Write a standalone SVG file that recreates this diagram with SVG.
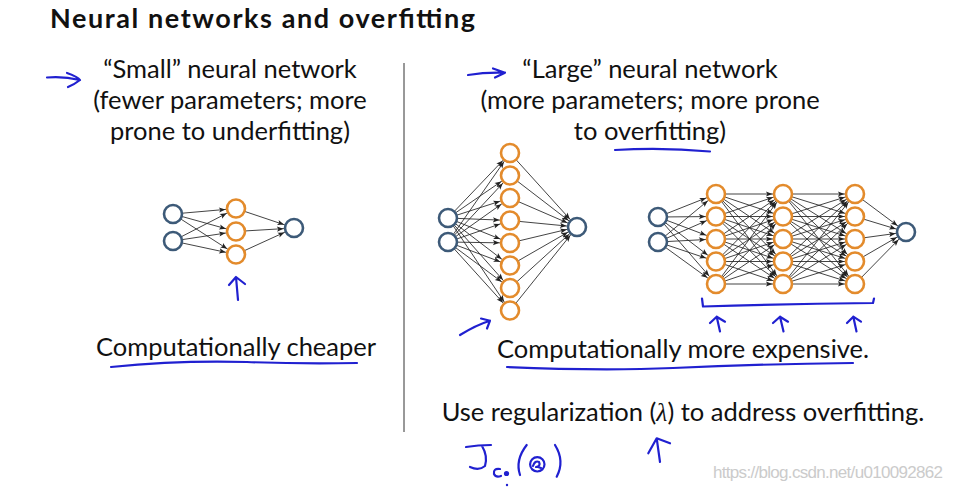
<svg xmlns="http://www.w3.org/2000/svg" width="960" height="490" viewBox="0 0 960 490">
<defs>
<marker id="ah" markerUnits="userSpaceOnUse" markerWidth="12" markerHeight="12" refX="10.6" refY="0" orient="auto" overflow="visible">
<path d="M-6.5,-2.6 L0,0 L-6.5,2.6 L-5,0 Z" fill="#222"/>
</marker>
</defs>
<style>
text{font-family:Lato,"Open Sans","Liberation Sans",sans-serif;fill:#111}
.t{font-size:25.5px;text-anchor:middle}
.h{font-size:27px;font-weight:bold}
.c{stroke:#222;stroke-width:0.85;marker-end:url(#ah)}
.io{fill:#fff;stroke:#3d5a78;stroke-width:2.6}
.hd{fill:#fff;stroke:#e38b2c;stroke-width:2.6}
.ink{fill:none;stroke:#2020d0;stroke-width:2.2;stroke-linecap:round;stroke-linejoin:round}
</style>
<rect width="960" height="490" fill="#fff"/>

<text class="h" x="50" y="28" textLength="425">Neural networks and overfitting</text>

<text class="t" x="230" y="78">“Small” neural network</text>
<text class="t" x="230" y="109">(fewer parameters; more</text>
<text class="t" x="230" y="140">prone to underfitting)</text>

<text class="t" x="650" y="78">“Large” neural network</text>
<text class="t" x="650" y="109">(more parameters; more prone</text>
<text class="t" x="650" y="140">to overfitting)</text>

<line x1="404" y1="63" x2="404" y2="432" stroke="#333" stroke-width="1"/>

<text class="t" x="236" y="356">Computationally cheaper</text>
<text class="t" x="683" y="358">Computationally more expensive.</text>
<text class="t" x="683" y="421">Use regularization (<tspan font-family="Liberation Serif" font-style="italic">λ</tspan>) to address overfitting.</text>

<text x="713" y="478" font-family="Liberation Sans" font-size="17" style="fill:#cbcbcb;font-family:'Liberation Sans',sans-serif" textLength="230">https://blog.csdn.net/u010092862</text>

<g id="connectors">
<!-- small network -->
<line class="c" x1="173" y1="214" x2="236" y2="208.5"/>
<line class="c" x1="173" y1="214" x2="236" y2="231.5"/>
<line class="c" x1="173" y1="214" x2="236" y2="254.5"/>
<line class="c" x1="173" y1="241" x2="236" y2="208.5"/>
<line class="c" x1="173" y1="241" x2="236" y2="231.5"/>
<line class="c" x1="173" y1="241" x2="236" y2="254.5"/>
<line class="c" x1="236" y1="208.5" x2="294" y2="228"/>
<line class="c" x1="236" y1="231.5" x2="294" y2="228"/>
<line class="c" x1="236" y1="254.5" x2="294" y2="228"/>
<!-- large network 1 -->
<line class="c" x1="448" y1="218" x2="510" y2="153"/>
<line class="c" x1="448" y1="218" x2="510" y2="175.5"/>
<line class="c" x1="448" y1="218" x2="510" y2="198"/>
<line class="c" x1="448" y1="218" x2="510" y2="220.5"/>
<line class="c" x1="448" y1="218" x2="510" y2="243"/>
<line class="c" x1="448" y1="218" x2="510" y2="265.5"/>
<line class="c" x1="448" y1="218" x2="510" y2="288"/>
<line class="c" x1="448" y1="218" x2="510" y2="310.5"/>
<line class="c" x1="448" y1="242" x2="510" y2="153"/>
<line class="c" x1="448" y1="242" x2="510" y2="175.5"/>
<line class="c" x1="448" y1="242" x2="510" y2="198"/>
<line class="c" x1="448" y1="242" x2="510" y2="220.5"/>
<line class="c" x1="448" y1="242" x2="510" y2="243"/>
<line class="c" x1="448" y1="242" x2="510" y2="265.5"/>
<line class="c" x1="448" y1="242" x2="510" y2="288"/>
<line class="c" x1="448" y1="242" x2="510" y2="310.5"/>
<line class="c" x1="510" y1="153" x2="577" y2="227"/>
<line class="c" x1="510" y1="175.5" x2="577" y2="227"/>
<line class="c" x1="510" y1="198" x2="577" y2="227"/>
<line class="c" x1="510" y1="220.5" x2="577" y2="227"/>
<line class="c" x1="510" y1="243" x2="577" y2="227"/>
<line class="c" x1="510" y1="265.5" x2="577" y2="227"/>
<line class="c" x1="510" y1="288" x2="577" y2="227"/>
<line class="c" x1="510" y1="310.5" x2="577" y2="227"/>
<!-- large network 2: input -> A -->
<line class="c" x1="658" y1="217" x2="716" y2="194"/>
<line class="c" x1="658" y1="217" x2="716" y2="216.5"/>
<line class="c" x1="658" y1="217" x2="716" y2="239"/>
<line class="c" x1="658" y1="217" x2="716" y2="261.5"/>
<line class="c" x1="658" y1="217" x2="716" y2="284"/>
<line class="c" x1="658" y1="242" x2="716" y2="194"/>
<line class="c" x1="658" y1="242" x2="716" y2="216.5"/>
<line class="c" x1="658" y1="242" x2="716" y2="239"/>
<line class="c" x1="658" y1="242" x2="716" y2="261.5"/>
<line class="c" x1="658" y1="242" x2="716" y2="284"/>
<!-- A -> B -->
<line class="c" x1="716" y1="194" x2="783" y2="194"/>
<line class="c" x1="716" y1="194" x2="783" y2="216.5"/>
<line class="c" x1="716" y1="194" x2="783" y2="239"/>
<line class="c" x1="716" y1="194" x2="783" y2="261.5"/>
<line class="c" x1="716" y1="194" x2="783" y2="284"/>
<line class="c" x1="716" y1="216.5" x2="783" y2="194"/>
<line class="c" x1="716" y1="216.5" x2="783" y2="216.5"/>
<line class="c" x1="716" y1="216.5" x2="783" y2="239"/>
<line class="c" x1="716" y1="216.5" x2="783" y2="261.5"/>
<line class="c" x1="716" y1="216.5" x2="783" y2="284"/>
<line class="c" x1="716" y1="239" x2="783" y2="194"/>
<line class="c" x1="716" y1="239" x2="783" y2="216.5"/>
<line class="c" x1="716" y1="239" x2="783" y2="239"/>
<line class="c" x1="716" y1="239" x2="783" y2="261.5"/>
<line class="c" x1="716" y1="239" x2="783" y2="284"/>
<line class="c" x1="716" y1="261.5" x2="783" y2="194"/>
<line class="c" x1="716" y1="261.5" x2="783" y2="216.5"/>
<line class="c" x1="716" y1="261.5" x2="783" y2="239"/>
<line class="c" x1="716" y1="261.5" x2="783" y2="261.5"/>
<line class="c" x1="716" y1="261.5" x2="783" y2="284"/>
<line class="c" x1="716" y1="284" x2="783" y2="194"/>
<line class="c" x1="716" y1="284" x2="783" y2="216.5"/>
<line class="c" x1="716" y1="284" x2="783" y2="239"/>
<line class="c" x1="716" y1="284" x2="783" y2="261.5"/>
<line class="c" x1="716" y1="284" x2="783" y2="284"/>
<!-- B -> C -->
<line class="c" x1="783" y1="194" x2="855" y2="194"/>
<line class="c" x1="783" y1="194" x2="855" y2="216.5"/>
<line class="c" x1="783" y1="194" x2="855" y2="239"/>
<line class="c" x1="783" y1="194" x2="855" y2="261.5"/>
<line class="c" x1="783" y1="194" x2="855" y2="284"/>
<line class="c" x1="783" y1="216.5" x2="855" y2="194"/>
<line class="c" x1="783" y1="216.5" x2="855" y2="216.5"/>
<line class="c" x1="783" y1="216.5" x2="855" y2="239"/>
<line class="c" x1="783" y1="216.5" x2="855" y2="261.5"/>
<line class="c" x1="783" y1="216.5" x2="855" y2="284"/>
<line class="c" x1="783" y1="239" x2="855" y2="194"/>
<line class="c" x1="783" y1="239" x2="855" y2="216.5"/>
<line class="c" x1="783" y1="239" x2="855" y2="239"/>
<line class="c" x1="783" y1="239" x2="855" y2="261.5"/>
<line class="c" x1="783" y1="239" x2="855" y2="284"/>
<line class="c" x1="783" y1="261.5" x2="855" y2="194"/>
<line class="c" x1="783" y1="261.5" x2="855" y2="216.5"/>
<line class="c" x1="783" y1="261.5" x2="855" y2="239"/>
<line class="c" x1="783" y1="261.5" x2="855" y2="261.5"/>
<line class="c" x1="783" y1="261.5" x2="855" y2="284"/>
<line class="c" x1="783" y1="284" x2="855" y2="194"/>
<line class="c" x1="783" y1="284" x2="855" y2="216.5"/>
<line class="c" x1="783" y1="284" x2="855" y2="239"/>
<line class="c" x1="783" y1="284" x2="855" y2="261.5"/>
<line class="c" x1="783" y1="284" x2="855" y2="284"/>
<!-- C -> output -->
<line class="c" x1="855" y1="194" x2="906" y2="232"/>
<line class="c" x1="855" y1="216.5" x2="906" y2="232"/>
<line class="c" x1="855" y1="239" x2="906" y2="232"/>
<line class="c" x1="855" y1="261.5" x2="906" y2="232"/>
<line class="c" x1="855" y1="284" x2="906" y2="232"/>
</g>

<!-- small network nodes -->
<g id="s-in1"><circle class="io" cx="173" cy="214" r="9"/></g>
<g id="s-in2"><circle class="io" cx="173" cy="241" r="9"/></g>
<g id="s-h1"><circle class="hd" cx="236" cy="208.5" r="9"/></g>
<g id="s-h2"><circle class="hd" cx="236" cy="231.5" r="9"/></g>
<g id="s-h3"><circle class="hd" cx="236" cy="254.5" r="9"/></g>
<g id="s-out"><circle class="io" cx="294" cy="228" r="9"/></g>

<!-- large network 1 nodes -->
<g id="l1-in1"><circle class="io" cx="448" cy="218" r="9"/></g>
<g id="l1-in2"><circle class="io" cx="448" cy="242" r="9"/></g>
<g id="l1-h1"><circle class="hd" cx="510" cy="153" r="9"/></g>
<g id="l1-h2"><circle class="hd" cx="510" cy="175.5" r="9"/></g>
<g id="l1-h3"><circle class="hd" cx="510" cy="198" r="9"/></g>
<g id="l1-h4"><circle class="hd" cx="510" cy="220.5" r="9"/></g>
<g id="l1-h5"><circle class="hd" cx="510" cy="243" r="9"/></g>
<g id="l1-h6"><circle class="hd" cx="510" cy="265.5" r="9"/></g>
<g id="l1-h7"><circle class="hd" cx="510" cy="288" r="9"/></g>
<g id="l1-h8"><circle class="hd" cx="510" cy="310.5" r="9"/></g>
<g id="l1-out"><circle class="io" cx="577" cy="227" r="9"/></g>

<!-- large network 2 nodes -->
<g id="l2-in1"><circle class="io" cx="658" cy="217" r="9"/></g>
<g id="l2-in2"><circle class="io" cx="658" cy="242" r="9"/></g>
<g id="l2-a1"><circle class="hd" cx="716" cy="194" r="9"/></g>
<g id="l2-a2"><circle class="hd" cx="716" cy="216.5" r="9"/></g>
<g id="l2-a3"><circle class="hd" cx="716" cy="239" r="9"/></g>
<g id="l2-a4"><circle class="hd" cx="716" cy="261.5" r="9"/></g>
<g id="l2-a5"><circle class="hd" cx="716" cy="284" r="9"/></g>
<g id="l2-b1"><circle class="hd" cx="783" cy="194" r="9"/></g>
<g id="l2-b2"><circle class="hd" cx="783" cy="216.5" r="9"/></g>
<g id="l2-b3"><circle class="hd" cx="783" cy="239" r="9"/></g>
<g id="l2-b4"><circle class="hd" cx="783" cy="261.5" r="9"/></g>
<g id="l2-b5"><circle class="hd" cx="783" cy="284" r="9"/></g>
<g id="l2-c1"><circle class="hd" cx="855" cy="194" r="9"/></g>
<g id="l2-c2"><circle class="hd" cx="855" cy="216.5" r="9"/></g>
<g id="l2-c3"><circle class="hd" cx="855" cy="239" r="9"/></g>
<g id="l2-c4"><circle class="hd" cx="855" cy="261.5" r="9"/></g>
<g id="l2-c5"><circle class="hd" cx="855" cy="284" r="9"/></g>
<g id="l2-out"><circle class="io" cx="906" cy="232" r="9"/></g>

<!-- handwritten annotations -->
<g id="ink">
<path class="ink" d="M47,77.5 Q63,76 80,80 M67,73 Q78,77 80,80 Q75,84 68,87"/>
<path class="ink" d="M468,75 Q486,72 505,72.7 M493,68.5 L505,72.7 L495,77.5"/>
<path class="ink" d="M615,150 Q662,147 710,151.5"/>
<path class="ink" d="M238,300 Q237,289 236,277 M229,285 L236,277 L245,284"/>
<path class="ink" d="M460,335 Q476,325 490,320.7 M481,318.5 L490,320.7 L487,328.5"/>
<path class="ink" d="M702,298.5 L703,306.5 Q786,304 873,303 L874,298.5"/>
<path class="ink" d="M720,331.5 L716.7,316.7 M710,323 L716.7,316.7 L725,321.7"/>
<path class="ink" d="M783.5,331.5 L780,316.7 M773,323 L780,316.7 L788,321.7"/>
<path class="ink" d="M856.5,331.5 L853.3,316.7 M847,323 L853.3,316.7 L861,321.7"/>
<path class="ink" d="M111,367 Q180,360 247,362 Q300,364 357,363"/>
<path class="ink" d="M507,367 Q600,371 673,368 Q760,364 853,363"/>
<path class="ink" d="M466,447 Q478,445 491,445 M482,446 Q488,456 485,466 Q479,471 470,467"/>
<path class="ink" d="M500,469 Q493,468 494,474 Q496,478 501,476" stroke-width="1.8"/>
<circle cx="506.5" cy="473.5" r="2.6" fill="#2020d0"/>
<circle cx="507" cy="485" r="1.2" fill="#2020d0"/>
<path class="ink" d="M526.7,445 Q515,460 520,475"/>
<circle class="ink" cx="537.3" cy="464.3" r="7.2"/>
<path class="ink" d="M533,466 Q535,460 539,462 Q541,466 536,467 M538,467 L541,468" stroke-width="1.6"/>
<path class="ink" d="M555,445 Q565,461 556.7,476.7"/>
<path class="ink" d="M660,462 L656.7,438.3 M648.3,453.3 L656.7,438.3 L670,443.3"/>
</g>
</svg>
